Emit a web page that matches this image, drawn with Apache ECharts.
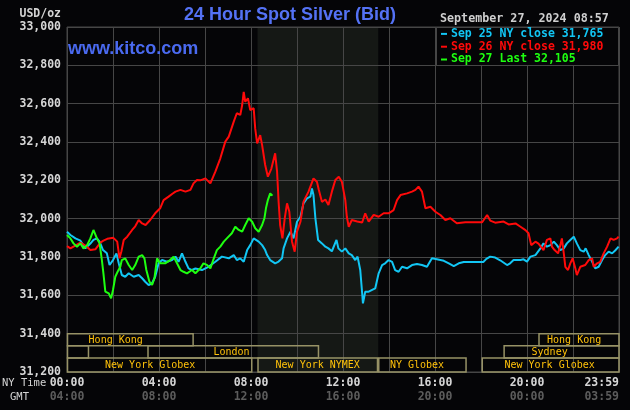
<!DOCTYPE html>
<html>
<head>
<meta charset="utf-8">
<script src="https://cdn.jsdelivr.net/npm/echarts@6/dist/echarts.min.js"></script>
<style>
html,body{margin:0;padding:0;background:#050507;}
#chart{width:630px;height:410px;}
</style>
</head>
<body>
<div id="chart"></div>
<script>
// ---------- data ----------
const seriesNames = ['Sep 25', 'Sep 26', 'Sep 27'];
const legendLabels = ['Sep 25 NY close 31,765', 'Sep 26 NY close 31,980', 'Sep 27 Last 32,105'];

const timeTicks = [0, 240, 480, 720, 960, 1200, 1440];
const nyTimeLabels = ['00:00', '04:00', '08:00', '12:00', '16:00', '20:00', '23:59'];
const gmtTimeLabels = ['04:00', '08:00', '12:00', '16:00', '20:00', '00:00', '03:59'];
const priceTicks = [31200, 31400, 31600, 31800, 32000, 32200, 32400, 32600, 32800, 33000];
const priceTickLabels = ['31,200', '31,400', '31,600', '31,800', '32,000', '32,200', '32,400', '32,600', '32,800', '33,000'];

// [minutes after 00:00 NY time, USD/oz]
const sep25 = [[0,31932],[9,31915],[22,31897],[35,31885],[48,31845],[61,31870],[69,31889],[78,31897],[85,31880],[94,31836],[104,31819],[111,31758],[120,31784],[129,31819],[135,31767],[143,31706],[152,31697],[161,31715],[174,31697],[187,31706],[196,31689],[204,31671],[213,31654],[222,31663],[230,31697],[239,31767],[248,31784],[261,31775],[274,31784],[283,31802],[291,31775],[300,31819],[309,31775],[317,31741],[326,31732],[335,31740],[352,31732],[369,31749],[387,31775],[404,31802],[422,31793],[435,31810],[443,31784],[452,31793],[461,31775],[470,31836],[478,31862],[487,31897],[491,31906],[500,31880],[509,31862],[517,31836],[522,31810],[530,31784],[543,31767],[552,31776],[561,31793],[565,31845],[574,31897],[583,31932],[591,31897],[600,31984],[609,32010],[617,32080],[626,32106],[635,32115],[639,32158],[643,32123],[648,32002],[655,31889],[665,31871],[674,31854],[682,31845],[691,31830],[696,31836],[703,31889],[708,31845],[717,31828],[726,31845],[735,31819],[743,31810],[752,31784],[758,31802],[765,31732],[770,31611],[772,31558],[778,31619],[787,31619],[796,31628],[804,31636],[813,31715],[822,31758],[830,31767],[839,31784],[848,31775],[856,31732],[865,31723],[874,31749],[887,31741],[900,31758],[913,31763],[926,31758],[939,31749],[952,31793],[965,31788],[983,31780],[996,31767],[1009,31753],[1022,31767],[1035,31774],[1086,31774],[1094,31790],[1104,31802],[1117,31797],[1130,31783],[1148,31758],[1156,31767],[1165,31784],[1183,31784],[1191,31788],[1200,31776],[1209,31802],[1222,31810],[1235,31845],[1243,31871],[1252,31854],[1261,31862],[1270,31880],[1278,31862],[1287,31836],[1296,31845],[1304,31871],[1313,31889],[1322,31906],[1330,31871],[1339,31836],[1348,31828],[1353,31845],[1361,31810],[1370,31775],[1378,31741],[1387,31749],[1396,31784],[1404,31810],[1413,31828],[1422,31819],[1430,31834],[1439,31854]];

const sep26 = [[0,31857],[9,31845],[26,31865],[35,31875],[48,31860],[61,31836],[74,31840],[87,31875],[95,31885],[105,31895],[121,31900],[126,31893],[131,31880],[137,31793],[142,31830],[148,31889],[157,31906],[170,31941],[178,31960],[187,31993],[196,31975],[205,31967],[217,31993],[230,32028],[243,32054],[252,32097],[265,32115],[275,32130],[283,32141],[296,32150],[309,32141],[322,32150],[330,32184],[339,32202],[348,32200],[361,32210],[374,32184],[387,32245],[400,32315],[413,32402],[422,32428],[435,32506],[443,32550],[452,32541],[457,32593],[461,32662],[465,32610],[472,32628],[478,32567],[487,32576],[491,32471],[496,32393],[504,32436],[509,32384],[517,32280],[524,32219],[533,32260],[543,32341],[548,32245],[552,32088],[556,31967],[562,31897],[568,32002],[574,32080],[580,32036],[587,31880],[594,31828],[600,31932],[609,31984],[617,32088],[630,32141],[643,32210],[652,32193],[657,32150],[665,32088],[674,32100],[682,32071],[691,32141],[700,32202],[709,32219],[717,32193],[726,32097],[730,32010],[735,31958],[743,31993],[757,31985],[770,31980],[778,32028],[787,31985],[800,32020],[813,32010],[826,32028],[839,32028],[852,32045],[861,32097],[870,32123],[887,32132],[900,32141],[909,32150],[917,32167],[926,32141],[935,32054],[948,32062],[961,32036],[974,32019],[987,31993],[1000,32002],[1017,31976],[1039,31981],[1083,31981],[1096,32019],[1104,31990],[1117,31979],[1139,31985],[1152,31970],[1170,31975],[1183,31958],[1196,31940],[1204,31924],[1211,31862],[1222,31880],[1230,31870],[1243,31836],[1252,31889],[1261,31897],[1265,31854],[1272,31836],[1281,31819],[1287,31862],[1291,31897],[1296,31819],[1300,31749],[1307,31732],[1313,31767],[1319,31793],[1326,31741],[1330,31706],[1339,31749],[1352,31758],[1361,31784],[1370,31793],[1374,31749],[1383,31767],[1391,31775],[1400,31819],[1409,31854],[1418,31897],[1426,31889],[1435,31897],[1439,31906]];

const sep27 = [[0,31915],[9,31897],[17,31871],[26,31854],[35,31871],[43,31845],[52,31860],[61,31897],[69,31941],[74,31932],[78,31897],[85,31871],[91,31784],[95,31715],[100,31619],[109,31610],[115,31584],[120,31628],[126,31697],[132,31723],[139,31749],[143,31784],[152,31793],[161,31758],[170,31732],[178,31758],[187,31802],[196,31810],[202,31793],[207,31732],[215,31671],[222,31654],[228,31689],[235,31793],[243,31767],[256,31767],[269,31784],[278,31802],[287,31767],[296,31732],[304,31723],[313,31715],[326,31732],[335,31715],[348,31741],[356,31767],[365,31759],[374,31741],[383,31793],[391,31836],[400,31854],[409,31880],[417,31897],[430,31924],[439,31958],[448,31941],[457,31932],[465,31967],[474,32002],[483,31984],[491,31950],[500,31932],[509,31967],[515,32002],[519,32054],[524,32097],[530,32132],[536,32120]];

// NY trading hours shading (minutes)
const shadeStart = 497;
const shadeEnd = 812;

// market sessions
const sessionNames    = ['Hong Kong', '', 'London', 'New York Globex', 'New York NYMEX', 'NY Globex', 'New York Globex', 'Sydney', 'Hong Kong'];
const sessionStart    = [0,    0,  210, 0,   497, 812,  1082, 1139, 1230];
const sessionEnd      = [329,  56, 656, 482, 810, 1041, 1440, 1440, 1440];
const sessionRow      = [0,    1,  1,   2,   2,   2,    2,    1,    0];
const sessionLabelAt  = [127,  28, 429, 217, 654, 913,  1259, 1259, 1323];

// ---------- chart ----------
const BG = '#050507';
const GRID = '#464646';
const MONO = '"DejaVu Sans Mono", "Liberation Mono", monospace';
const colors = ['#12c6f4', '#ff0a0a', '#1eff10'];
const rowTop = [31400, 31337, 31273];
const rowBottom = [31337, 31273, 31200];

const chart = echarts.init(document.getElementById('chart'), null, {renderer: 'canvas'});

const lineSeries = [sep25, sep26, sep27].map((d, i) => ({
  name: seriesNames[i],
  type: 'line',
  data: d,
  showSymbol: false,
  symbol: 'none',
  z: 3 + i,
  color: colors[i],
  lineStyle: {color: colors[i], width: 2},
  animation: false
}));

const option = {
  backgroundColor: BG,
  animation: false,
  grid: {left: 67, right: 11, top: 27, bottom: 38, show: true, borderColor: GRID, borderWidth: 1, backgroundColor: 'transparent'},
  title: [
    {text: '24 Hour Spot Silver (Bid)', left: 184, top: 6, padding: 0,
     textStyle: {color: '#5472f5', fontFamily: '"Liberation Sans", Arial, sans-serif', fontWeight: 'bold', fontSize: 18}},
    {text: 'www.kitco.com', left: 68, top: 40, padding: 0,
     textStyle: {color: '#4a6af0', fontFamily: '"Liberation Sans", Arial, sans-serif', fontWeight: 'bold', fontSize: 18}}
  ],
  legend: {
    orient: 'vertical', left: 441, top: 27.5, padding: 0, itemGap: 0,
    itemWidth: 6, itemHeight: 2, icon: 'rect', selectedMode: false, z: 20,
    data: seriesNames.map((n, i) => ({name: n, textStyle: {color: colors[i]}})),
    formatter: name => legendLabels[seriesNames.indexOf(name)],
    textStyle: {fontFamily: MONO, fontWeight: 'bold', fontSize: 11.5, lineHeight: 12.8, padding: [0, 0, 0, -1]}
  },
  graphic: [
    {type: 'rect', z: 15, shape: {x: 436.5, y: 27.5, width: 182, height: 38}, style: {fill: BG, stroke: GRID, lineWidth: 1}},
    {type: 'text', z: 16, style: {text: 'September 27, 2024 08:57', x: 440, y: 19, fill: '#cfcfcf', font: 'bold 11.7px ' + MONO, verticalAlign: 'middle', textVerticalAlign: 'middle'}},
    {type: 'text', z: 16, style: {text: 'USD/oz', x: 61, y: 14, fill: '#d4d4d4', font: 'bold 11.5px ' + MONO, align: 'right', textAlign: 'right', verticalAlign: 'middle', textVerticalAlign: 'middle'}},
    {type: 'text', z: 16, style: {text: 'NY Time', x: 2, y: 383, fill: '#d4d4d4', font: '10.5px ' + MONO, verticalAlign: 'middle', textVerticalAlign: 'middle'}},
    {type: 'text', z: 16, style: {text: 'GMT', x: 10, y: 397, fill: '#d4d4d4', font: '10.5px ' + MONO, verticalAlign: 'middle', textVerticalAlign: 'middle'}}
  ],
  xAxis: {
    type: 'value', min: 0, max: 1440, interval: 120,
    axisLine: {show: true, lineStyle: {color: GRID}},
    axisTick: {show: false},
    splitLine: {show: true, lineStyle: {color: GRID, width: 1}},
    axisLabel: {
      show: true, margin: 4, alignMaxLabel: 'right', alignMinLabel: 'center',
      formatter: v => {
        const k = timeTicks.indexOf(v);
        if (k < 0) return '';
        return '{a|' + nyTimeLabels[k] + '}\n{b|' + gmtTimeLabels[k] + '}';
      },
      rich: {
        a: {color: '#d6d6d6', fontFamily: MONO, fontWeight: 'bold', fontSize: 11.5, lineHeight: 14},
        b: {color: '#5c5c5c', fontFamily: MONO, fontWeight: 'bold', fontSize: 11.5, lineHeight: 14}
      }
    }
  },
  yAxis: {
    type: 'value', min: 31200, max: 33000, interval: 200,
    axisLine: {show: false}, axisTick: {show: false},
    splitLine: {show: true, lineStyle: {color: GRID, width: 1}},
    axisLabel: {
      margin: 6, color: '#d6d6d6', fontFamily: MONO, fontWeight: 'bold', fontSize: 11.5,
      formatter: v => priceTickLabels[priceTicks.indexOf(v)] || ''
    }
  },
  series: [
    {
      type: 'custom', name: 'shade', z: -1, silent: true, clip: false,
      data: [[shadeStart, shadeEnd]],
      renderItem: (params, api) => {
        const p1 = api.coord([api.value(0), 33000]);
        const p2 = api.coord([api.value(1), 31200]);
        return {type: 'rect', shape: {x: p1[0], y: p1[1], width: p2[0] - p1[0], height: p2[1] - p1[1]}, style: {fill: '#151815'}};
      }
    },
    {
      type: 'custom', name: 'sessions', z: 1, silent: true, clip: false,
      data: sessionStart.map((s, i) => [s, sessionEnd[i], sessionRow[i], sessionLabelAt[i]]),
      renderItem: (params, api) => {
        const i = params.dataIndex;
        const row = api.value(2);
        const a = api.coord([api.value(0), rowTop[row]]);
        const b = api.coord([api.value(1), rowBottom[row]]);
        const lx = api.coord([api.value(3), 31300])[0];
        return {
          type: 'group',
          children: [
            {type: 'rect', shape: {x: a[0] + 0.5, y: a[1], width: b[0] - a[0] - 0.5, height: b[1] - a[1]},
             style: {fill: 'none', stroke: '#979266', lineWidth: 1.5}},
            {type: 'text', style: {text: sessionNames[i], x: lx, y: (a[1] + b[1]) / 2 + 0.5, fill: '#ffc20a',
             font: '10px ' + MONO, align: 'center', textAlign: 'center', verticalAlign: 'middle', textVerticalAlign: 'middle'}}
          ]
        };
      }
    }
  ].concat(lineSeries)
};
chart.setOption(option);
</script>
</body>
</html>
